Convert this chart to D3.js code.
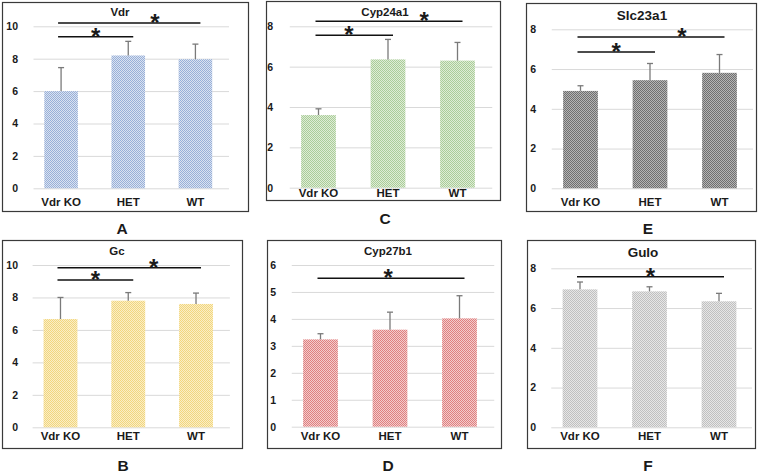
<!DOCTYPE html>
<html><head><meta charset="utf-8">
<script src="https://cdn.jsdelivr.net/npm/d3@7"></script>
<style>body{margin:0;background:#fff}svg{display:block}text{font-family:"Liberation Sans",Arial,sans-serif;font-weight:bold;fill:#1a1a1a}</style>
</head><body><svg id="c" width="759" height="473"></svg>
<script>
// ---- data ----
const categories = ["Vdr KO", "HET", "WT"];
const panelLetters = ["A", "C", "E", "B", "D", "F"];
const geneTitles = ["Vdr", "Cyp24a1", "Slc23a1", "Gc", "Cyp27b1", "Gulo"];
const vdrMean = [6.0, 8.2, 7.97];
const vdrErr = [1.45, 0.87, 0.93];
const cyp24a1Mean = [3.6, 6.36, 6.3];
const cyp24a1Err = [0.31, 0.99, 0.9];
const slc23a1Mean = [4.9, 5.44, 5.81];
const slc23a1Err = [0.26, 0.84, 0.92];
const gcMean = [6.67, 7.8, 7.6];
const gcErr = [1.33, 0.5, 0.67];
const cyp27b1Mean = [3.24, 3.6, 4.02];
const cyp27b1Err = [0.21, 0.65, 0.84];
const guloMean = [6.94, 6.84, 6.34];
const guloErr = [0.37, 0.23, 0.4];
const vdrTicks = [0, 2, 4, 6, 8, 10];
const cyp24a1Ticks = [0, 2, 4, 6, 8];
const slc23a1Ticks = [0, 2, 4, 6, 8];
const gcTicks = [0, 2, 4, 6, 8, 10];
const cyp27b1Ticks = [0, 1, 2, 3, 4, 5, 6];
const guloTicks = [0, 2, 4, 6, 8];
// significance brackets: [fromIndex, toIndex, yValue, starFraction]
const vdrSig = [[0, 2, 10.2, 0.68], [0, 1, 9.35, 0.5]];
const cyp24a1Sig = [[0, 2, 8.25, 0.74], [0, 1, 7.56, 0.43]];
const slc23a1Sig = [[0, 2, 7.61, 0.71], [0, 1, 6.86, 0.5]];
const gcSig = [[0, 2, 9.83, 0.67], [0, 1, 9.08, 0.5]];
const cyp27b1Sig = [[0, 2, 5.51, 0.48]];
const guloSig = [[0, 2, 7.58, 0.5]];

// ---- layout / styles ----
const panels = [
  {mean: vdrMean, err: vdrErr, ticks: vdrTicks, sig: vdrSig, max: 10,
   frame: [2, 2, 248, 211], y0: 188.3, y1: 26.3, band: [27.5, 229], tickX: 18, titleXY: [120, 16], titleSize: 11.5, xlabY: 206, letterXY: [122, 234],
   dark: "#98b0d8", light: "#dae2f1"},
  {mean: cyp24a1Mean, err: cyp24a1Err, ticks: cyp24a1Ticks, sig: cyp24a1Sig, max: 8,
   frame: [266, 1, 500, 200], y0: 187.7, y1: 26.3, band: [283.75, 492.25], tickX: 273, titleXY: [385, 16], titleSize: 11.5, xlabY: 197, letterXY: [385, 224],
   dark: "#aacd99", light: "#deecd6"},
  {mean: slc23a1Mean, err: slc23a1Err, ticks: slc23a1Ticks, sig: slc23a1Sig, max: 8,
   frame: [526, 3, 756, 211], y0: 188.3, y1: 29.3, band: [545.75, 754.25], tickX: 536, titleXY: [642, 20], titleSize: 13.5, xlabY: 206, letterXY: [648, 234],
   dark: "#6f6f6f", light: "#b4b4b4"},
  {mean: gcMean, err: gcErr, ticks: gcTicks, sig: gcSig, max: 10,
   frame: [2, 240, 242, 448], y0: 427.3, y1: 265, band: [26.6, 229.9], tickX: 18, titleXY: [117, 255], titleSize: 11.5, xlabY: 440, letterXY: [123, 471],
   dark: "#f2d67f", light: "#faeec6"},
  {mean: cyp27b1Mean, err: cyp27b1Err, ticks: cyp27b1Ticks, sig: cyp27b1Sig, max: 6,
   frame: [267, 240, 501, 448], y0: 426.7, y1: 265, band: [285.75, 494.25], tickX: 276, titleXY: [388, 255], titleSize: 11.5, xlabY: 440, letterXY: [388, 471],
   dark: "#df8080", light: "#f3cccc"},
  {mean: guloMean, err: guloErr, ticks: guloTicks, sig: guloSig, max: 8,
   frame: [527, 240, 755, 448], y0: 427.3, y1: 268.3, band: [545.25, 753.75], tickX: 536, titleXY: [643, 257], titleSize: 13.5, xlabY: 440, letterXY: [648, 471],
   dark: "#c0c0c0", light: "#e6e6e6"}
];

const svg = d3.select("#c");
const defs = svg.append("defs");

panels.forEach((p, i) => {
  // checker pattern
  const pid = "pat" + i;
  const pat = defs.append("pattern").attr("id", pid).attr("patternUnits", "userSpaceOnUse").attr("width", 2).attr("height", 2);
  pat.append("rect").attr("width", 2).attr("height", 2).attr("fill", p.light);
  pat.append("rect").attr("x", 0).attr("y", 0).attr("width", 1).attr("height", 1).attr("fill", p.dark);
  pat.append("rect").attr("x", 1).attr("y", 1).attr("width", 1).attr("height", 1).attr("fill", p.dark);

  const g = svg.append("g");
  const [fx0, fy0, fx1, fy1] = p.frame;
  g.append("rect").attr("x", fx0 + 0.5).attr("y", fy0 + 0.5).attr("width", fx1 - fx0).attr("height", fy1 - fy0)
    .attr("fill", "#fff").attr("stroke", "#3a3a3a").attr("stroke-width", 1.2);

  const y = d3.scaleLinear().domain([0, p.max]).range([p.y0, p.y1]);
  const x = d3.scaleBand().domain(categories).range(p.band).paddingInner(0.5).paddingOuter(0.25);

  // gridlines
  const grid = d3.axisLeft(y).tickValues(p.ticks).tickSize(-(Math.min(p.band[1], fx1 - 3) - (p.band[0] + 6))).tickFormat("");
  const gg = g.append("g").attr("transform", `translate(${p.band[0] + 6},0)`).call(grid);
  gg.select(".domain").remove();
  gg.selectAll("line").attr("stroke", "#d9d9d9").attr("stroke-width", 1);

  // tick labels
  const ya = d3.axisLeft(y).tickValues(p.ticks).tickSize(0).tickPadding(0).tickFormat(d3.format("d"));
  const ga = g.append("g").attr("transform", `translate(${p.tickX},0)`).call(ya);
  ga.select(".domain").remove();
  ga.selectAll("text").attr("font-size", 10.5).attr("font-family", "Liberation Sans, Arial, sans-serif").attr("font-weight", "bold").attr("fill", "#1a1a1a");

  // bars
  g.selectAll(".bar").data(p.mean).enter().append("rect")
    .attr("x", (d, j) => x(categories[j]))
    .attr("y", d => y(d))
    .attr("width", x.bandwidth())
    .attr("height", d => y(0) - y(d))
    .attr("fill", `url(#${pid})`);

  // error bars (upper only)
  p.mean.forEach((m, j) => {
    const cx = x(categories[j]) + x.bandwidth() / 2;
    g.append("line").attr("x1", cx).attr("x2", cx).attr("y1", y(m)).attr("y2", y(m + p.err[j]))
      .attr("stroke", "#7a7a7a").attr("stroke-width", 1.3);
    g.append("line").attr("x1", cx - 3).attr("x2", cx + 3).attr("y1", y(m + p.err[j])).attr("y2", y(m + p.err[j]))
      .attr("stroke", "#7a7a7a").attr("stroke-width", 1.3);
  });

  // x labels
  const xa = d3.axisBottom(x).tickSize(0).tickPadding(0);
  const gx = g.append("g").attr("transform", `translate(0,${p.xlabY - 8.5})`).call(xa);
  gx.select(".domain").remove();
  gx.selectAll("text").attr("font-size", 11.5).attr("font-family", "Liberation Sans, Arial, sans-serif").attr("font-weight", "bold").attr("fill", "#1a1a1a").attr("dy", "0.71em");

  // significance
  p.sig.forEach(s => {
    const xa0 = x(categories[s[0]]) + x.bandwidth() / 2 - 3;
    const xa1 = x(categories[s[1]]) + x.bandwidth() / 2 + 5;
    const yy = y(s[2]);
    g.append("line").attr("x1", xa0).attr("x2", xa1).attr("y1", yy).attr("y2", yy)
      .attr("stroke", "#111").attr("stroke-width", 1.5);
    g.append("text").attr("x", xa0 + (xa1 - xa0) * s[3]).attr("y", yy + 8)
      .attr("text-anchor", "middle").attr("font-size", 24).text("*");
  });

  // title
  g.append("text").attr("x", p.titleXY[0]).attr("y", p.titleXY[1]).attr("text-anchor", "middle")
    .attr("font-size", p.titleSize).text(geneTitles[i]);
  // panel letter
  g.append("text").attr("x", p.letterXY[0]).attr("y", p.letterXY[1]).attr("text-anchor", "middle")
    .attr("font-size", 15.5).text(panelLetters[i]);
});
</script></body></html>
